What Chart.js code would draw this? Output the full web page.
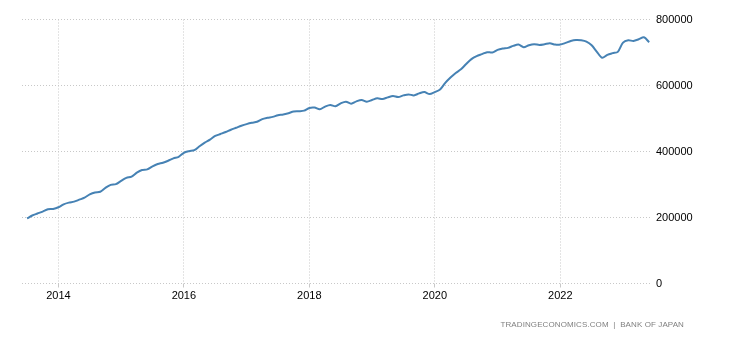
<!DOCTYPE html>
<html>
<head>
<meta charset="utf-8">
<script src="https://cdn.jsdelivr.net/npm/chart.js@4"></script>
<style>
  body { margin: 0; background: #fff; }
  #wrap { position: relative; width: 730px; height: 340px; }
  #source {
    position: absolute; right: 46px; top: 320px;
    font: 8px "Liberation Sans", Arial, sans-serif; color: #808080;
    letter-spacing: 0.1px; white-space: nowrap;
  }
</style>
</head>
<body>
<div id="wrap">
  <canvas id="chart" width="730" height="340"></canvas>
  <div id="source">TRADINGECONOMICS.COM &nbsp;|&nbsp; BANK OF JAPAN</div>
</div>
<script>
// monthly series, first point July 2013
const startYear = 2013;
const startMonth = 7;
const values = [
  197000, 206000, 212000, 218000, 225000, 226000, 231000, 240000, 245000, 248000,
  254000, 260000, 270000, 276000, 278000, 290000, 299000, 301000, 311000, 320000,
  324000, 336000, 344000, 346000, 355000, 362000, 366000, 372000, 379000, 384000,
  396000, 401000, 404000, 416000, 427000, 436000, 447000, 453000, 459000, 466000,
  472000, 478000, 483000, 487000, 490000, 498000, 502000, 505000, 510000, 512000,
  516000, 521000, 522000, 524000, 532000, 533000, 528000, 536000, 541000, 537000,
  546000, 551000, 545000, 552000, 556000, 551000, 556000, 561000, 559000, 564000,
  568000, 565000, 570000, 573000, 570000, 576000, 580000, 574000, 580000, 588000,
  608000, 624000, 638000, 649000, 665000, 680000, 689000, 695000, 701000, 700000,
  708000, 712000, 714000, 720000, 724000, 716000, 722000, 725000, 723000, 725000,
  728000, 724000, 724000, 729000, 735000, 738000, 737000, 733000, 722000, 702000,
  684000, 693000, 698000, 702000, 730000, 737000, 735000, 740000, 746000, 731000
];
const yearTicks = [2014, 2016, 2018, 2020, 2022];
const valueTicks = [0, 200000, 400000, 600000, 800000];

const points = values.map((v, i) => ({ x: startYear + (startMonth - 1 + i) / 12, y: v }));

const tickFont = { family: '"Liberation Sans", Arial, sans-serif', size: 11 };
const gridColor = '#c8c8c8';

new Chart(document.getElementById('chart').getContext('2d'), {
  type: 'line',
  data: {
    datasets: [{
      data: points,
      borderColor: '#4682b4',
      borderWidth: 2,
      pointRadius: 0,
      tension: 0.3,
      fill: false
    }]
  },
  options: {
    responsive: false,
    animation: false,
    layout: { padding: { left: 22, right: 0, top: 19.5, bottom: 0 } },
    plugins: { legend: { display: false }, tooltip: { enabled: false } },
    scales: {
      x: {
        type: 'linear',
        min: 2013.42,
        max: 2023.43,
        afterBuildTicks: s => { s.ticks = yearTicks.map(v => ({ value: v })); },
        afterFit: s => { s.height = 56.5; },
        grid: { color: gridColor, tickLength: 4 },
        border: { display: false, dash: [1, 2] },
        ticks: { font: tickFont, color: '#000', padding: 2, maxRotation: 0, callback: v => String(v) }
      },
      y: {
        position: 'right',
        min: 0,
        max: 800000,
        afterBuildTicks: s => { s.ticks = valueTicks.map(v => ({ value: v })); },
        afterFit: s => { s.width = 80; },
        grid: { color: gridColor, drawTicks: false },
        border: { display: false, dash: [1, 2] },
        ticks: { font: tickFont, color: '#000', padding: 6, callback: v => String(v) }
      }
    }
  }
});
</script>
</body>
</html>
